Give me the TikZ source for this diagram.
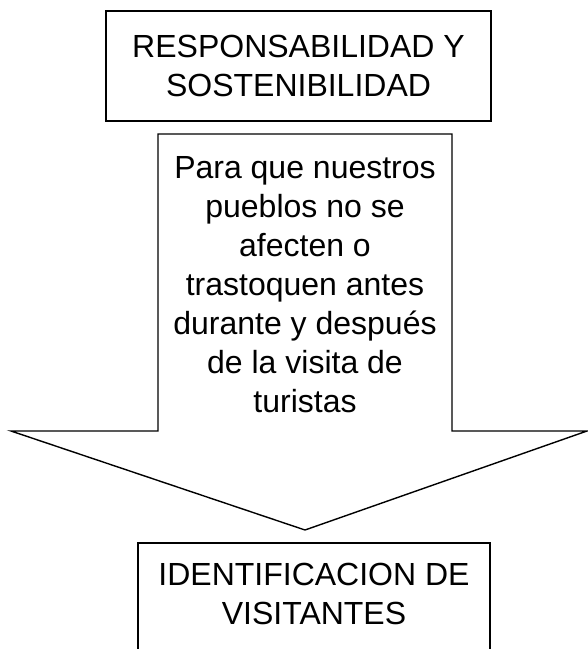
\documentclass[tikz,border=0pt]{standalone}
\usepackage{fontspec}
\setmainfont{Liberation Sans}
\begin{document}
\begin{tikzpicture}[x=1pt,y=-1pt,line width=1.4pt,line join=miter,
  txt/.style={align=center,font=\fontsize{32}{39}\selectfont,inner sep=0pt}]
\useasboundingbox (0,0) rectangle (588,649);
% top box
\coordinate (tbA) at (106,11);
\coordinate (tbB) at (491,121);
\draw (tbA) rectangle (tbB);
\node[txt] (top) at (298.5,66) {RESPONSABILIDAD Y\\SOSTENIBILIDAD};
% block arrow
\coordinate (s1) at (158,134);
\coordinate (s2) at (452,134);
\coordinate (s3) at (452,431);
\coordinate (w2) at (587,431);
\coordinate (tip) at (305,530);
\coordinate (w1) at (11,431);
\coordinate (s4) at (158,431);
\draw (s1) -- (s2) -- (s3) -- (w2) -- (tip) -- (w1) -- (s4) -- cycle;
\node[txt] (mid) at (305,285) {Para que nuestros\\pueblos no se\\afecten o\\trastoquen antes\\durante y después\\de la visita de\\turistas};
% bottom box (open at bottom)
\coordinate (b1) at (138,649);
\coordinate (b2) at (138,543);
\coordinate (b3) at (490,543);
\coordinate (b4) at (490,649);
\draw (b1) -- (b2) -- (b3) -- (b4);
\node[txt] (bot) at (314,594) {IDENTIFICACION DE\\VISITANTES};
\end{tikzpicture}
\end{document}
